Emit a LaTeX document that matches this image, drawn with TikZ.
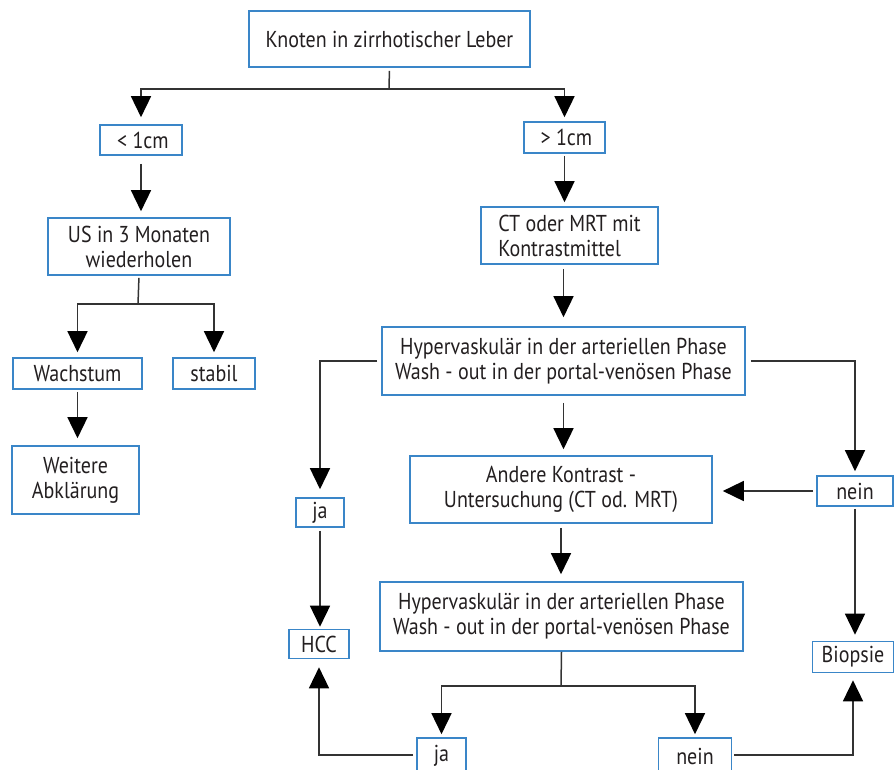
\documentclass[tikz,border=0pt]{standalone}
\usepackage{fontspec}
\setmainfont{PT Sans}[FakeStretch=0.87]
\usetikzlibrary{arrows.meta}
\definecolor{boxblue}{HTML}{3A86C8}
\definecolor{linegray}{HTML}{333333}
\definecolor{txt}{HTML}{231F20}
\begin{document}
\begin{tikzpicture}[x=1pt,y=1pt,
  box/.style={draw=boxblue, line width=1.6pt, fill=white, inner sep=0pt, align=center, text=txt,
     font=\fontsize{23}{25}\selectfont},
  conn/.style={draw=linegray, line width=1.5pt},
  arr/.style={conn, -{Triangle[width=20pt,length=21pt,color=black]}}
]
\clip (0,0) rectangle (896,-769);
\fill[white] (0,0) rectangle (896,-769);
% nodes
\node[box, minimum width=281pt, minimum height=56pt] (top) at (389.5,-39) {Knoten in zirrhotischer Leber};
\node[box, minimum width=82pt, minimum height=30pt] (lt) at (141,-140) {\,< 1cm};
\node[box, minimum width=81pt, minimum height=31pt] (gt) at (564.5,-137.5) {\,> 1cm};
\node[box, minimum width=182pt, minimum height=57pt] (us) at (139,-246.5) {US in 3 Monaten\\wiederholen};
\node[box, minimum width=177pt, minimum height=57pt, align=left] (ct) at (569.5,-235.5) {CT oder MRT mit\\Kontrastmittel};
\node[box, minimum width=129pt, minimum height=31pt] (wachs) at (77.5,-373.5) {Wachstum};
\node[box, minimum width=82pt, minimum height=31pt] (stabil) at (214,-373.5) {stabil};
\node[box, minimum width=127pt, minimum height=68pt] (weitere) at (75.5,-480) {Weitere\\Abklärung};
\node[box, minimum width=363pt, minimum height=68pt] (hyp1) at (563.5,-361) {Hypervaskulär in der arteriellen Phase\\Wash - out in der portal-venösen Phase};
\node[box, minimum width=302pt, minimum height=67pt] (andere) at (561,-489.5) {Andere Kontrast -\\Untersuchung (CT od. MRT)};
\node[box, minimum width=76pt, minimum height=30pt] (nein1) at (855,-491) {nein};
\node[box, minimum width=48pt, minimum height=29pt] (ja1) at (320,-512.5) {ja};
\node[box, minimum width=60pt, minimum height=29pt] (hcc) at (319,-644) {HCC};
\node[box, minimum width=81pt, minimum height=31pt] (biopsie) at (853,-657) {Biopsie};
\node[box, minimum width=363pt, minimum height=69pt] (hyp2) at (561.5,-616.5) {Hypervaskulär in der arteriellen Phase\\Wash - out in der portal-venösen Phase};
\node[box, minimum width=49pt, minimum height=36pt] (ja2) at (441.5,-756) {ja};
\node[box, minimum width=73pt, minimum height=36pt] (nein2) at (695,-756) {nein};
% connectors
\coordinate (t1) at (389,-89);
\draw[conn, shorten <=3pt] (top.south) -- (t1);
\draw[arr, shorten >=7pt] (t1) -| (lt.north);
\draw[arr, shorten >=4pt] (t1) -| (gt.north);
\draw[arr, shorten <=8pt, shorten >=6pt] (lt.south) -- (lt.south |- us.north);
\draw[arr, shorten <=2pt, shorten >=4pt] (gt.south) -- (gt.south |- ct.north);
\coordinate (u1) at (138,-304);
\draw[conn, shorten <=2pt] (us.south) -- (u1);
\draw[arr, shorten >=5pt] (u1) -| (wachs.north);
\draw[arr, shorten >=5pt] (u1) -| (stabil.north);
\draw[arr, shorten <=2pt, shorten >=7pt] (wachs.south) -- (wachs.south |- weitere.north);
\draw[arr, shorten <=4pt, shorten >=9pt] (ct.south -| hyp1.north) -- (hyp1.north);
\draw[arr, shorten <=4pt, shorten >=8pt] (hyp1.west) -| (ja1.north);
\draw[arr, shorten <=5pt, shorten >=4pt] (hyp1.east) -| (nein1.north);
\draw[arr, shorten <=7pt, shorten >=6pt] (hyp1.south) -- (hyp1.south |- andere.north);
\draw[arr, shorten <=3pt, shorten >=10pt] (nein1.west) -- (nein1.west -| andere.east);
\draw[arr, shorten <=2pt, shorten >=6pt] (nein1.south) -- (nein1.south |- biopsie.north);
\draw[arr, shorten <=3pt, shorten >=2pt] (ja1.south) -- (ja1.south |- hcc.north);
\draw[arr, shorten <=4pt, shorten >=7pt] (andere.south) -- (andere.south |- hyp2.north);
\coordinate (h2) at (561,-686);
\draw[conn] (hyp2.south) -- (h2);
\draw[arr, shorten >=3pt] (h2) -| (ja2.north);
\draw[arr, shorten >=3pt] (h2) -| (nein2.north);
\draw[arr, shorten <=3pt, shorten >=8pt] (ja2.west |- 0,-755) -| (hcc.south);
\draw[arr, shorten <=2pt, shorten >=7pt] (nein2.east |- 0,-755) -| (biopsie.south);
\end{tikzpicture}
\end{document}
